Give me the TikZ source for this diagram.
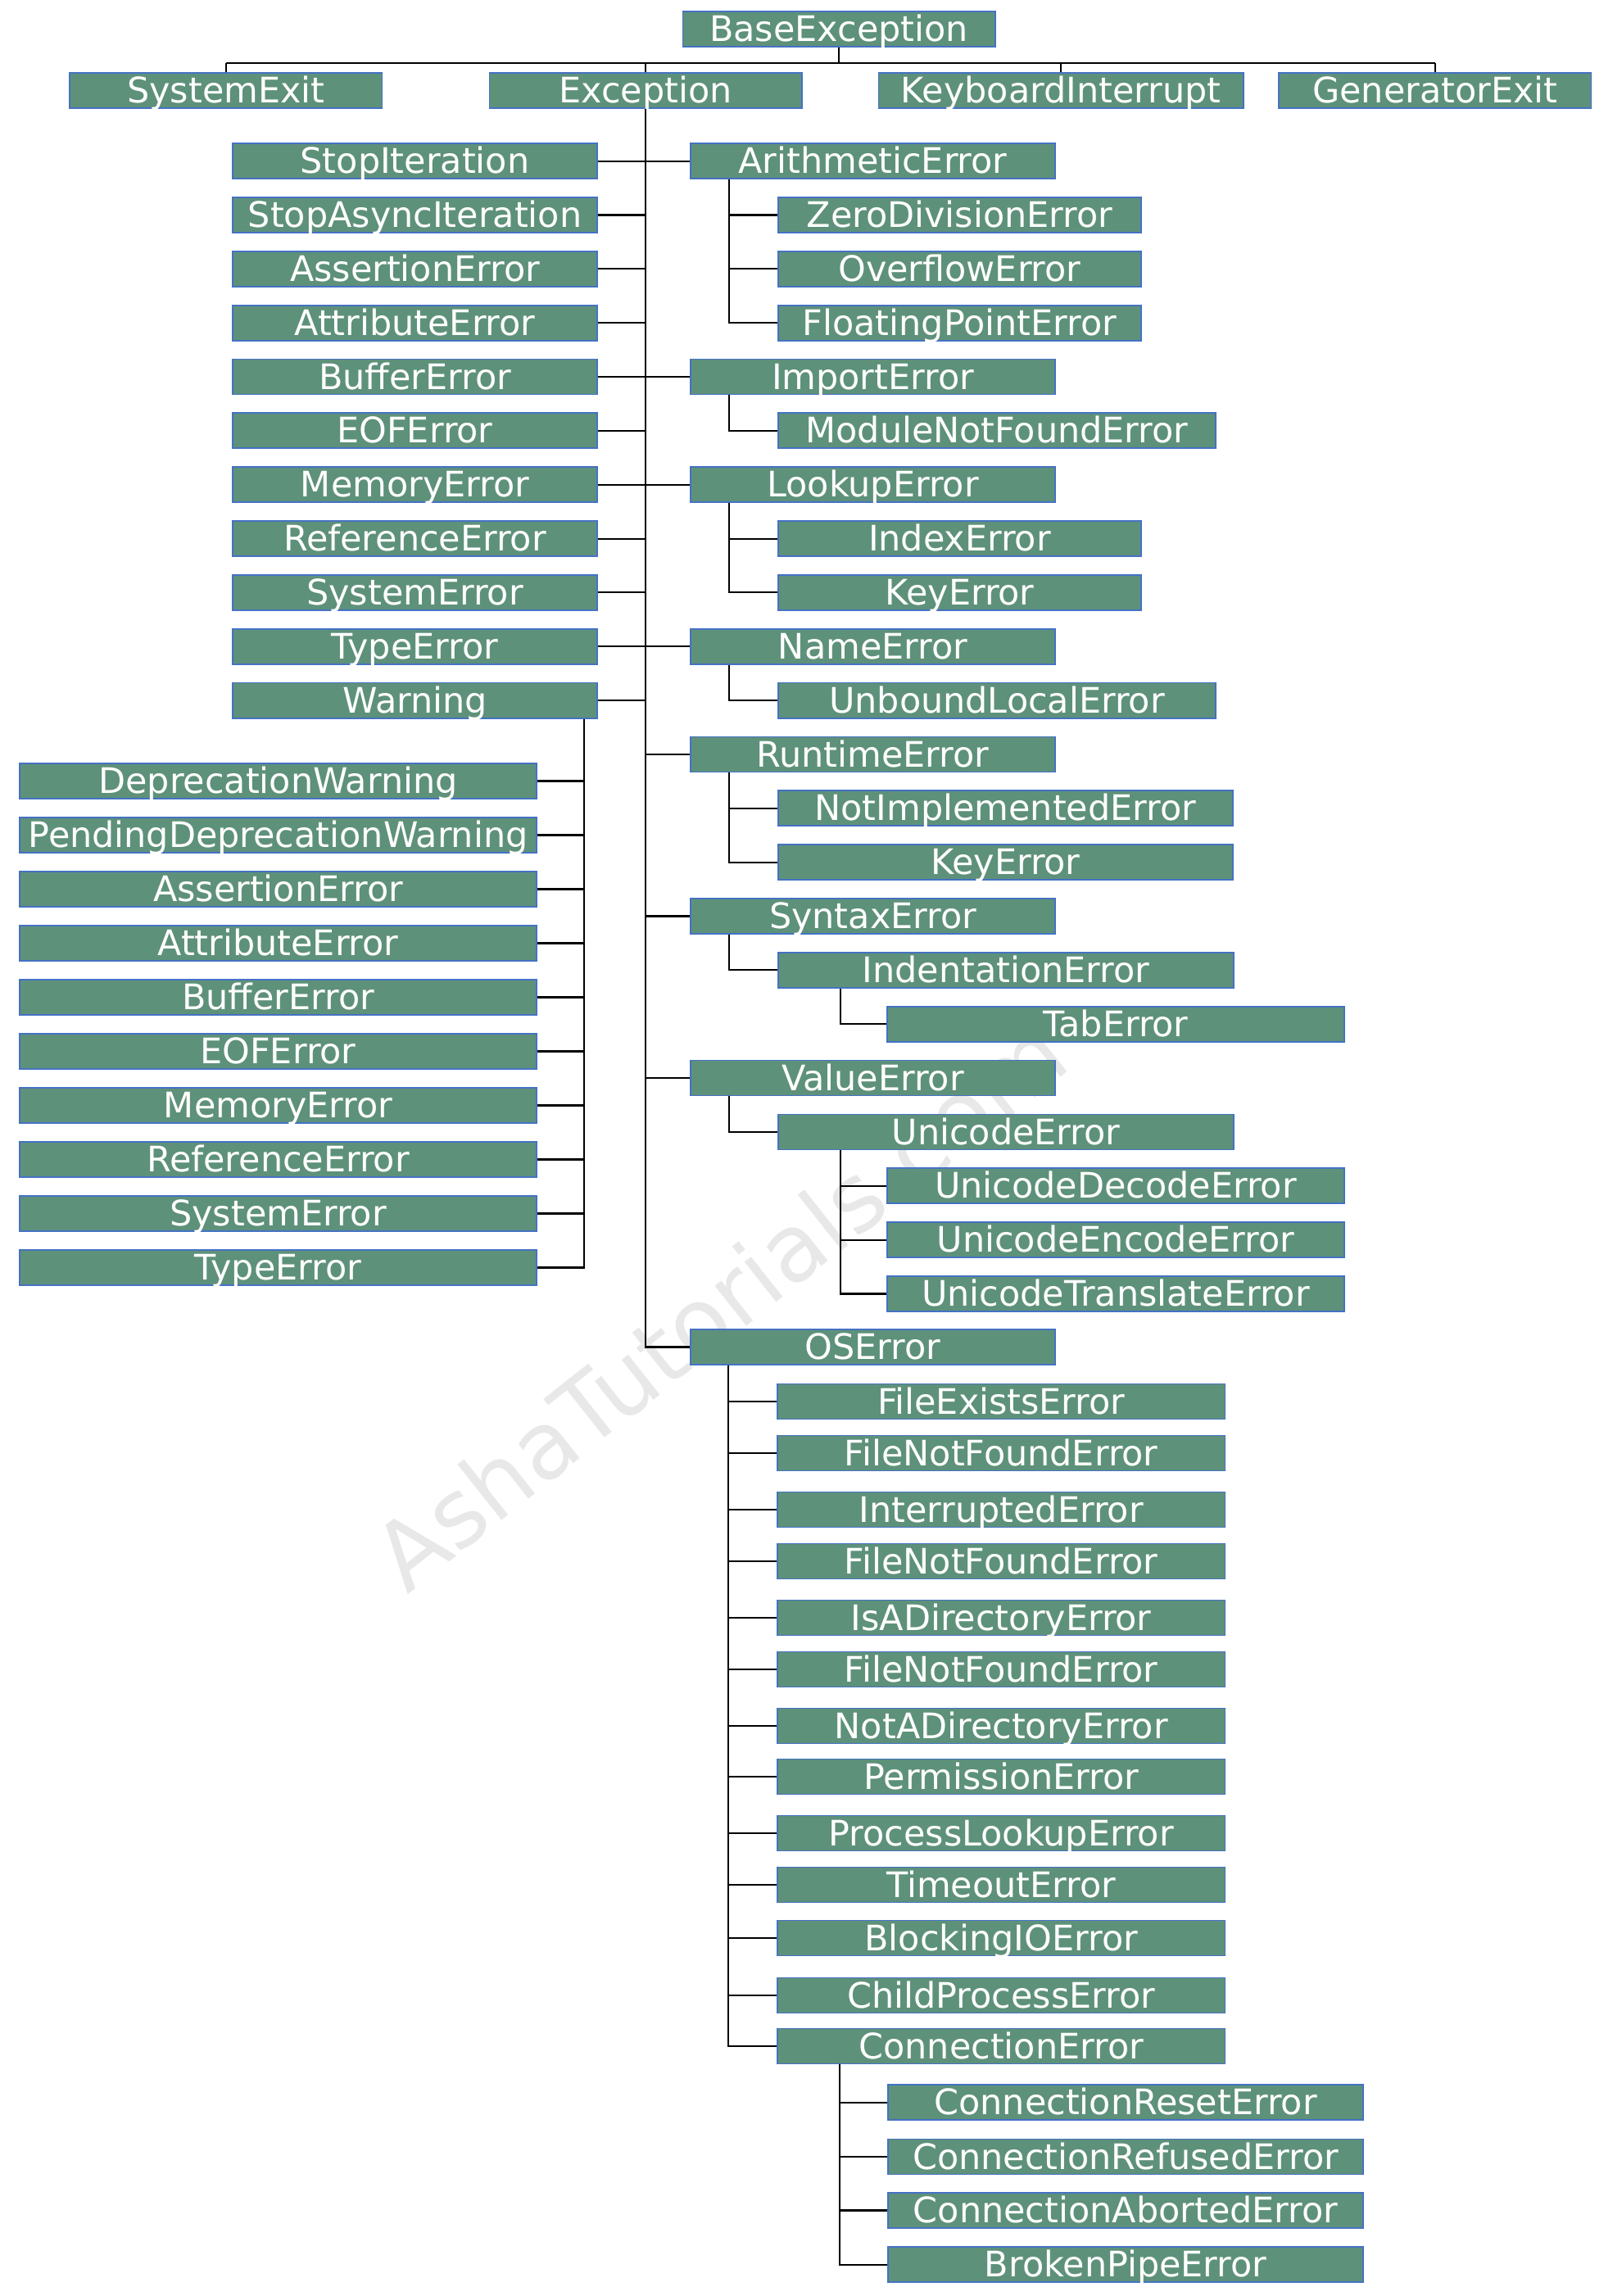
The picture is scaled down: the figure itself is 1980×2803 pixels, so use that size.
\documentclass[tikz,border=0pt]{standalone}
\usepackage{fontspec}
\setmainfont{DejaVu Sans}
\usetikzlibrary{positioning}

\definecolor{boxgreen}{RGB}{94,145,122}
\definecolor{boxedge}{RGB}{68,114,196}
\definecolor{markgray}{RGB}{232,232,232}

\tikzset{
  exc/.style={draw=boxedge, line width=0.5pt, fill=boxgreen, text=white,
    inner sep=0pt, minimum height=0.43cm, text height=10.2pt, text depth=1.6pt,
    font=\fontsize{12.2}{14}\selectfont},
  link/.style={line width=0.6pt, draw=black},
}

\begin{document}
\begin{tikzpicture}[x=0.01cm, y=-0.01cm]
  \useasboundingbox (0,0) rectangle (1980,2803);

  % watermark behind everything
  \node[rotate=38.4, text=markgray, font=\fontsize{32.4}{38}\selectfont] (mark) at (877,1592) {AshaTutorials.com};

  % top row
  \node[exc, minimum width=3.81cm] (base) at (1024,35.3) {BaseException};
  \node[exc, minimum width=3.81cm] (sysexit) at (275.8,110.8) {SystemExit};
  \node[exc, minimum width=3.81cm] (ex) at (788,110.8) {Exception};
  \node[exc, minimum width=4.45cm] (kbint) at (1295,110.8) {KeyboardInterrupt};
  \node[exc, minimum width=3.81cm] (genexit) at (1751.8,110.8) {GeneratorExit};

  \coordinate (bus) at (1024,76.7);
  \draw[link] (base.south) -- (bus);
  \draw[link] (sysexit.north |- bus) -- (genexit.north |- bus);
  \foreach \n in {sysexit, ex, kbint, genexit}
    \draw[link] (\n.north) -- (\n.north |- bus);

  % left column under Exception
  \foreach \name [count=\k from 0] in {StopIteration, StopAsyncIteration, AssertionError,
      AttributeError, BufferError, EOFError, MemoryError, ReferenceError, SystemError,
      TypeError, Warning}
  {
    \node[exc, minimum width=4.45cm] (L\k) at (506.5,{196.6+65.85*\k}) {\name};
    \draw[link] (L\k.east) -- (L\k.east -| ex.south);
  }

  % children of Warning
  \foreach \name [count=\k from 0] in {DeprecationWarning, PendingDeprecationWarning,
      AssertionError, AttributeError, BufferError, EOFError, MemoryError, ReferenceError,
      SystemError, TypeError}
  {
    \node[exc, minimum width=6.30cm] (W\k) at (339.5,{953.5+66*\k}) {\name};
  }
  \coordinate (wtop) at ([xshift=-0.17cm]L10.south east);
  \draw[link] (wtop) |- (W9.east);
  \foreach \k in {0,...,8}
    \draw[link] (W\k.east) -- (W\k.east -| wtop);

  % right column under Exception
  \foreach \name/\k/\id in {ArithmeticError/0/arith, ImportError/4/import, LookupError/6/lookup,
      NameError/9/nameerr, RuntimeError/11/runtime, SyntaxError/14/syntax, ValueError/17/value}
  {
    \node[exc, minimum width=4.45cm] (\id) at (1065.5,{196.6+65.85*\k}) {\name};
    \draw[link] (\id.west) -- (\id.west -| ex.south);
  }
  \node[exc, minimum width=4.45cm] (oserr) at (1065.5,1644.5) {OSError};
  \draw[link] (ex.south) |- (oserr.west);

  % second level
  \foreach \name/\k/\id/\w/\up in {ZeroDivisionError/1/zerodiv/443/arith,
      OverflowError/2/overflow/443/arith, FloatingPointError/3/floatpt/443/arith,
      ModuleNotFoundError/5/modnf/534/import,
      IndexError/7/index/443/lookup, KeyError/8/keyerr/443/lookup,
      UnboundLocalError/10/unbound/534/nameerr,
      NotImplementedError/12/notimpl/555/runtime, KeyError/13/rkeyerr/555/runtime,
      IndentationError/15/indent/556/syntax,
      UnicodeError/18/unicode/556/value}
  {
    \node[exc, minimum width=\w*0.01cm, anchor=west] (\id) at (949,{196.6+65.85*\k}) {\name};
    \draw[link] ([xshift=0.48cm]\up.south west) |- (\id.west);
  }

  % third level
  \node[exc, minimum width=5.57cm, anchor=west] (taberr) at (1082.4,{196.6+65.85*16}) {TabError};
  \draw[link] ([xshift=0.77cm]indent.south west) |- (taberr.west);
  \foreach \name/\k/\id in {UnicodeDecodeError/19/udecode, UnicodeEncodeError/20/uencode,
      UnicodeTranslateError/21/utrans}
  {
    \node[exc, minimum width=5.57cm, anchor=west] (\id) at (1082.4,{196.6+65.85*\k}) {\name};
    \draw[link] ([xshift=0.77cm]unicode.south west) |- (\id.west);
  }

  % children of OSError
  \foreach \name/\y [count=\k] in {FileExistsError/1711, FileNotFoundError/1774,
      InterruptedError/1843, FileNotFoundError/1906, IsADirectoryError/1975,
      FileNotFoundError/2038, NotADirectoryError/2107, PermissionError/2169,
      ProcessLookupError/2238, TimeoutError/2301, BlockingIOError/2366,
      ChildProcessError/2436, ConnectionError/2498}
  {
    \node[exc, minimum width=5.46cm, anchor=west] (os\k) at (948.2,\y) {\name};
    \draw[link] ([xshift=0.47cm]oserr.south west) |- (os\k.west);
  }

  % children of ConnectionError
  \foreach \name/\y [count=\k] in {ConnectionResetError/2566.7, ConnectionRefusedError/2633,
      ConnectionAbortedError/2698.5, BrokenPipeError/2764.7}
  {
    \node[exc, minimum width=5.80cm, anchor=west] (conn\k) at (1083,\y) {\name};
    \draw[link] ([xshift=0.77cm]os13.south west) |- (conn\k.west);
  }
\end{tikzpicture}
\end{document}
